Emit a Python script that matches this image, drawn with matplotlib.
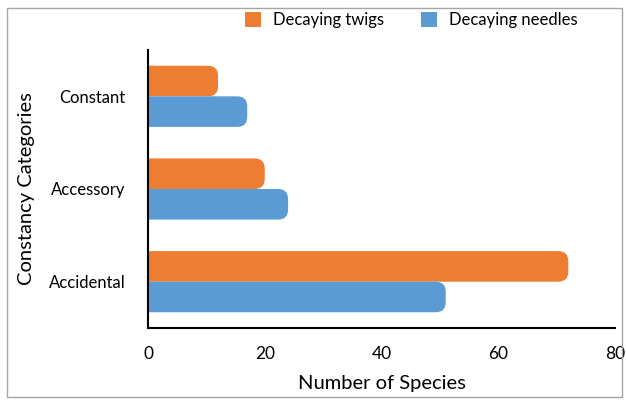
import matplotlib.pyplot as plt
from matplotlib.patches import FancyBboxPatch, Rectangle

categories = ["Accidental", "Accessory", "Constant"]
twigs = [72, 20, 12]
needles = [51, 24, 17]

ORANGE = "#ED7D31"
BLUE = "#5B9BD5"

plt.rcParams["font.family"] = ["Lato", "DejaVu Sans"]

W, H = 626, 400
fig = plt.figure(figsize=(W / 100, H / 100), dpi=100)
ax = fig.add_axes([148 / W, 1 - 328 / H, (615 - 148) / W, (328 - 50) / H])

ax.set_xlim(0, 80)
ax.set_ylim(-0.5, 2.5)

bar_h = 0.33
ys = list(range(len(categories)))

# scale factors so the rounded corners stay circular on screen
px_x = (615 - 148) / 80.0
px_y = (328 - 50) / 3.0
aspect = px_x / px_y
radius = 10 / px_x


def rounded_bar(y, value, color):
    p = FancyBboxPatch((-2 * radius, y - bar_h / 2), value + 2 * radius, bar_h,
                       boxstyle=f"round,pad=0,rounding_size={radius}",
                       mutation_aspect=aspect,
                       facecolor=color, edgecolor="none")
    ax.add_patch(p)


for y, t, n in zip(ys, twigs, needles):
    rounded_bar(y + bar_h / 2, t, ORANGE)
    rounded_bar(y - bar_h / 2, n, BLUE)

ax.set_yticks(ys)
ax.set_yticklabels(categories, fontsize=12)
ax.set_xticks([0, 20, 40, 60, 80])
ax.tick_params(axis="x", labelsize=12.5, length=0, pad=13)
ax.tick_params(axis="y", length=0, pad=16)

for side in ["top", "right"]:
    ax.spines[side].set_visible(False)
ax.spines["left"].set_linewidth(1.5)
ax.spines["bottom"].set_linewidth(1.5)

ax.set_xlabel("Number of Species", fontsize=14.5, labelpad=9)
ax.set_ylabel("Constancy Categories", fontsize=14.5, labelpad=10)

# legend squares and labels along the top
for x0, color, label in [(245, ORANGE, "Decaying twigs"), (421, BLUE, "Decaying needles")]:
    fig.patches.append(Rectangle((x0 / W, 1 - 27 / H), 16 / W, 15 / H,
                                 transform=fig.transFigure, facecolor=color,
                                 edgecolor="none"))
    fig.text((x0 + 28) / W, 1 - 20 / H, label, fontsize=12, va="center")

# outer frame
fig.patches.append(Rectangle((7 / W, 3 / H), (W - 11) / W, (H - 11) / H,
                             transform=fig.transFigure, fill=False,
                             edgecolor="#A6A6A6", linewidth=1))

fig.savefig("out.png", dpi=100)
